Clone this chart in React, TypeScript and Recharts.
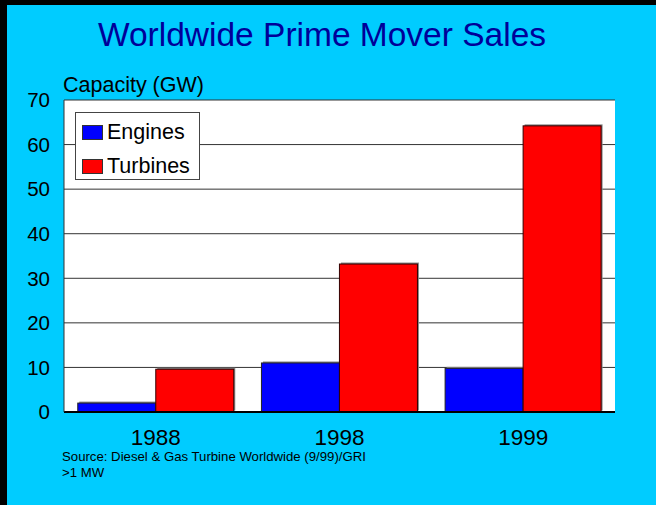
import React from "react";
import { BarChart, Bar, XAxis, YAxis, CartesianGrid, Legend } from "recharts";

const years = ["1988", "1998", "1999"];
const engines = [2.0, 11.0, 9.8];
const turbines = [9.6, 33.2, 64.2];
const yTicks = [0, 10, 20, 30, 40, 50, 60, 70];

const data = years.map((year, i) => ({ year, engines: engines[i], turbines: turbines[i] }));

const FONT = '"Liberation Sans", Arial, sans-serif';

const ShadowBar = (props: any) => {
    const { x, y, width, height, fill, stroke } = props;
    if (!height || height <= 0) return null;
    return (
        <g>
            <rect x={x + 1.5} y={y - 1.5} width={width} height={height} fill="#888" />
            <rect x={x} y={y} width={width} height={height} fill={fill} stroke={stroke} strokeWidth={1} />
        </g>
    );
};

const YearTick = (props: any) => {
    const { x, y, payload } = props;
    return (
        <text x={x} y={y + 25} textAnchor="middle" fontSize={22.5} fill="#000" fontFamily={FONT}>
            {payload.value}
        </text>
    );
};

const LegendBox = () => (
    <div style={{
        width: 125, height: 68, background: "#fff", border: "1px solid #444",
        fontFamily: FONT, fontSize: 21.5, color: "#000", boxSizing: "border-box", paddingTop: 7,
    }}>
        {[{ name: "Engines", color: "#0000ff" }, { name: "Turbines", color: "#ff0000" }].map((it) => (
            <div key={it.name} style={{ display: "flex", alignItems: "center", height: 25, marginBottom: 9, paddingLeft: 6, lineHeight: "25px" }}>
                <span style={{ display: "inline-block", width: 19, height: 13, background: it.color, border: "1px solid #333", marginRight: 4 }} />
                {it.name}
            </div>
        ))}
    </div>
);

export default function App() {
    return (
        <div style={{ position: "absolute", left: 0, top: 0, width: 656, height: 505, background: "#000" }}>
            <div style={{ position: "absolute", left: 7, top: 5, width: 649, height: 500, background: "#00ccff" }} />
            <div style={{
                position: "absolute", left: -6, top: 16, width: 656, textAlign: "center",
                fontFamily: FONT, fontSize: 33.5, color: "#000099", lineHeight: "normal",
            }}>
                Worldwide Prime Mover Sales
            </div>
            <div style={{ position: "absolute", left: 63, top: 73, fontFamily: FONT, fontSize: 21.5, color: "#000" }}>
                Capacity (GW)
            </div>
            <div style={{ position: "absolute", left: 0, top: 0 }}>
                <BarChart
                    width={656}
                    height={505}
                    data={data}
                    margin={{ top: 100, right: 41, bottom: 63, left: 4 }}
                    barCategoryGap="7.5%"
                    barGap={0}
                >
                    <CartesianGrid horizontal vertical={false} stroke="#333" fill="#fff" strokeOpacity={1} />
                    <XAxis
                        dataKey="year"
                        height={30}
                        tickLine={false}
                        axisLine={{ stroke: "#000", strokeWidth: 2 }}
                        tick={<YearTick />}
                        interval={0}
                    />
                    <YAxis
                        width={60}
                        domain={[0, 70]}
                        ticks={yTicks}
                        tickLine={false}
                        axisLine={{ stroke: "#333" }}
                        tick={{ fontSize: 20.5, fill: "#000", fontFamily: FONT }}
                        tickMargin={8}
                        interval={0}
                    />
                    <YAxis
                        yAxisId="right"
                        orientation="right"
                        width={0}
                        domain={[0, 70]}
                        tick={false}
                        tickLine={false}
                        axisLine={{ stroke: "#333" }}
                    />
                    <Legend
                        layout="horizontal"
                        align="center"
                        verticalAlign="middle"
                        wrapperStyle={{ position: "absolute", left: 75, top: 112, width: "auto", height: "auto" }}
                        content={<LegendBox />}
                    />
                    <Bar dataKey="engines" name="Engines" fill="#0000ff" stroke="#222" shape={<ShadowBar />} isAnimationActive={false} />
                    <Bar dataKey="turbines" name="Turbines" fill="#ff0000" stroke="#330000" shape={<ShadowBar />} isAnimationActive={false} />
                </BarChart>
            </div>
            <div style={{ position: "absolute", left: 62, top: 449, fontFamily: FONT, fontSize: 13.2, color: "#000", lineHeight: "16px" }}>
                Source: Diesel &amp; Gas Turbine Worldwide (9/99)/GRI<br />&gt;1 MW
            </div>
        </div>
    );
}
